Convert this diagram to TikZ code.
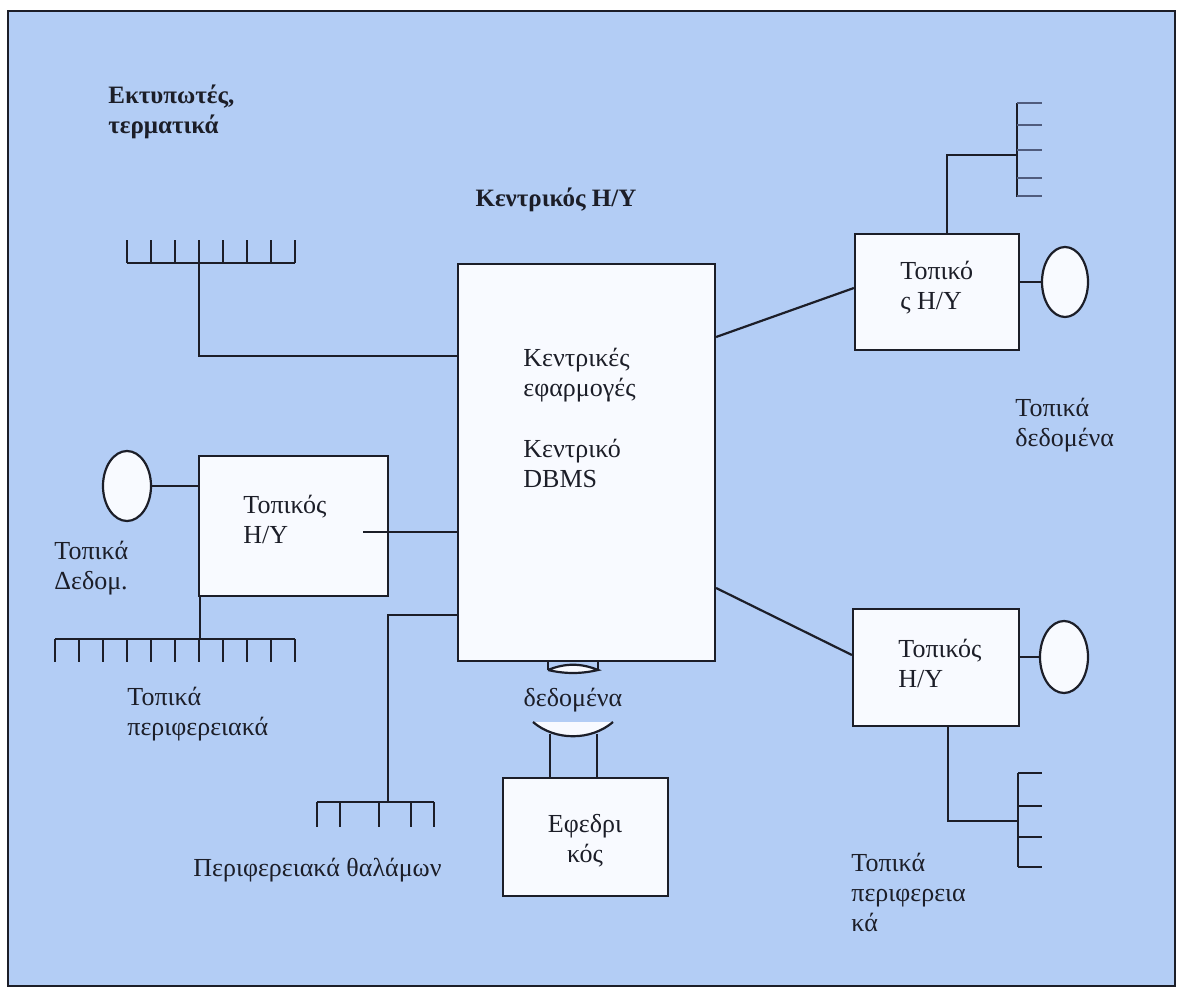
\documentclass[tikz,border=0pt]{standalone}
\usepackage{fontspec}
\setmainfont{Liberation Serif}
\usetikzlibrary{positioning,shapes.geometric,calc}

\definecolor{panelblue}{RGB}{179,205,245}
\definecolor{inkdark}{RGB}{28,30,40}
\definecolor{paperwhite}{RGB}{248,250,255}
\definecolor{fadeink}{RGB}{80,92,125}

\begin{document}
\begin{tikzpicture}[
  x=0.5pt, y=-0.5pt,
  color=inkdark,
  box/.style={draw, fill=paperwhite, inner sep=0, line width=1.1pt},
  disk/.style={draw, ellipse, fill=paperwhite, inner sep=0, line width=1.1pt},
  lbl/.style={inner sep=0, align=left, anchor=west, font=\fontsize{13}{15}\selectfont},
  link/.style={line width=1.1pt},
  tooth/.style={line width=1.1pt},
  fadetooth/.style={line width=1.3pt, fadeink}
]
\useasboundingbox (0,0) rectangle (1178,988);
\fill[white] (0,0) rectangle (1178,988);
\draw[fill=panelblue, line width=1.2pt] (8,11) rectangle (1175,986);

% boxes and disks
\node[box, minimum width=128.5pt, minimum height=198.5pt] (main) at (586.5,462.5) {};
\node[box, minimum width=94.5pt, minimum height=70pt] (lbox) at (293.5,526) {};
\node[box, minimum width=82pt, minimum height=58pt] (rubox) at (937,292) {};
\node[box, minimum width=83pt, minimum height=58.5pt] (rlbox) at (936,667.5) {};
\node[box, minimum width=82.5pt, minimum height=59pt] (spare) at (585.5,837) {};
\node[disk, minimum width=24pt, minimum height=35pt] (ldisk) at (127,486) {};
\node[disk, minimum width=23pt, minimum height=35pt] (rudisk) at (1065,282) {};
\node[disk, minimum width=24pt, minimum height=36pt] (rldisk) at (1064,657) {};

% labels
\node[lbl, font=\bfseries\fontsize{12.5}{15}\selectfont] (prnlbl) at (108,112) {Εκτυπωτές,\\τερματικά};
\node[lbl, font=\bfseries\fontsize{12.5}{15}\selectfont, anchor=center] (mainlbl) at (556,200) {Κεντρικός Η/Υ};
\node[lbl] (apps) at (523,375) {Κεντρικές\\εφαρμογές};
\node[lbl] (dbms) at (523,463) {Κεντρικό\\DBMS};
\node[lbl] (lboxlbl) at (243,519) {Τοπικός\\Η/Υ};
\node[lbl] (ldatalbl) at (54,568) {Τοπικά\\Δεδομ.};
\node[lbl] (lperlbl) at (127,714) {Τοπικά\\περιφερειακά};
\node[lbl] (cablbl) at (193,870) {Περιφερειακά θαλάμων};
\node[lbl, anchor=center] (datalbl) at (573,700) {δεδομένα};
\node[lbl, anchor=center, align=center] (sparelbl) at (585,841) {Εφεδρι\\κός};
\node[lbl] (ruboxlbl) at (900,288) {Τοπικό\\ς Η/Υ};
\node[lbl] (rdatalbl) at (1015,425) {Τοπικά\\δεδομένα};
\node[lbl] (rlboxlbl) at (898,663) {Τοπικός\\Η/Υ};
\node[lbl] (rperlbl) at (851,892) {Τοπικά\\περιφερεια\\κά};

% printers and terminals
\coordinate (prnbar) at (199,263);
\draw[link] (127,263) -- (295,263);
\foreach \i in {0,...,7} \draw[tooth] ($(127,263)+(24*\i,0)$) -- ++(0,-23);
\draw[link] (prnbar) |- (main.west |- 0,356);

% left local computer
\coordinate (lboxtap) at (363,532);
\coordinate (lbar) at (200,639);
\draw[link] (ldisk.east) -- (lbox.west |- ldisk.east);
\draw[link] (lboxtap) -- (main.west |- lboxtap);
\draw[link] (lbox.south -| lbar) -- (lbar);
\draw[link] (55,639) -- (295,639);
\foreach \i in {0,...,10} \draw[tooth] ($(55,639)+(24*\i,0)$) -- ++(0,23);

% cabin peripherals
\coordinate (cabbar) at (388,802);
\draw[link] (main.west |- 0,615) -| (cabbar);
\draw[link] (317,802) -- (434,802);
\foreach \x in {317,340,379,411,434} \draw[tooth] (\x,802) -- ++(0,25);

% backup data store
\coordinate (cyltop) at (573,661);
\draw[link, fill=paperwhite] (548,670) .. controls (565,663) and (581,663) .. (598,670)
  .. controls (581,674) and (565,674) .. (548,670);
\draw[link] (548,661) -- (548,670);
\draw[link] (598,661) -- (598,670);
\coordinate (bowlL) at (550,734);
\coordinate (bowlR) at (597,734);
\fill[paperwhite] (533,722) .. controls (555,741) and (591,741) .. (613,722) -- cycle;
\draw[link] (533,722) .. controls (555,741) and (591,741) .. (613,722);
\draw[link] (bowlL) -- (spare.north -| bowlL);
\draw[link] (bowlR) -- (spare.north -| bowlR);

% upper right local computer
\coordinate (rubar) at (1017,155);
\draw[link] (main.east |- 0,337) -- (rubox.west |- 0,288);
\draw[link] (rudisk.west) -- (rubox.east |- rudisk.west);
\draw[link] (rubox.north -| 947,0) |- (rubar);
\draw[link] (1017,103) -- (1017,197);
\foreach \y in {103,125,150,178,196} \draw[fadetooth] (1017,\y) -- ++(25,0);

% lower right local computer
\coordinate (rlbar) at (1018,821);
\draw[link] (main.east |- 0,588) -- (rlbox.west |- 0,655);
\draw[link] (rldisk.west) -- (rlbox.east |- rldisk.west);
\draw[link] (rlbox.south -| 948,0) |- (rlbar);
\draw[link] (1018,773) -- (1018,867);
\foreach \y in {773,806,837,867} \draw[tooth] (1018,\y) -- ++(24,0);
\end{tikzpicture}
\end{document}
